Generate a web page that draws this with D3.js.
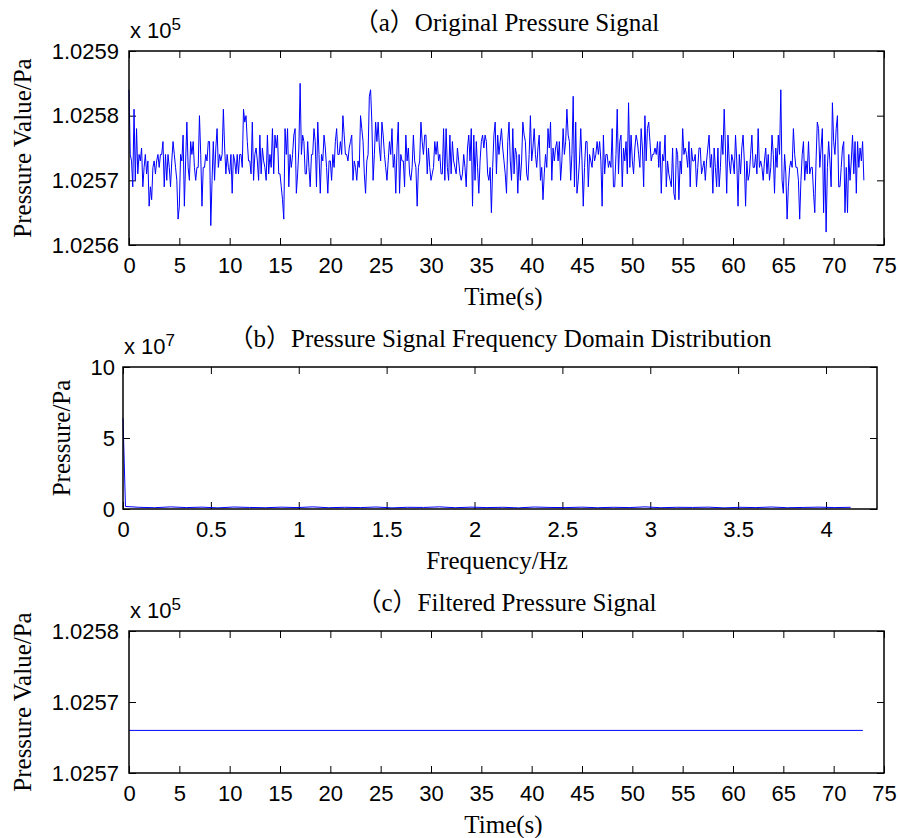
<!DOCTYPE html>
<html>
<head>
<meta charset="utf-8">
<script src="https://cdn.jsdelivr.net/npm/d3@7"></script>
<style>
    body { margin: 0; background: #ffffff; }
    svg { display: block; }
</style>
</head>
<body>
<svg id="chart" width="898" height="838"></svg>
<script>
//sample interval of the recorded signal (s)
var sampleInterval = 0.125;

//original pressure signal (Pa)
var pressureValues = [
    102584,102574,102573,102569,102581,102570,102578,102571,102574,102573,102575,102569,102572,102574,102571,102573,
    102566,102569,102567,102572,102573,102571,102573,102574,102572,102574,102574,
    102576,102569,102574,102570,102574,102572,102569,102573,102576,102574,102572,102570,102564,
    102566,102574,102573,102577,102566,102573,102579,102572,102570,102576,102574,102576,102572,102570,
    102572,102572,102580,102574,102566,102572,102572,102574,102573,102576,102576,102563,102570,
    102576,102570,102575,102578,102572,102574,102573,102574,102581,102575,102571,102574,102572,
    102571,102574,102568,102574,102573,102571,102574,102571,102574,102574,102572,102581,102579,102580,102576,102573,
    102573,102571,102579,102570,102574,102575,102573,102570,102577,102571,102575,102573,102572,
    102570,102577,102571,102574,102572,102578,102571,102577,102575,102577,102571,102571,102569,
    102567,102564,102578,102574,102578,102569,102574,102572,102574,102577,102578,102568,102571,
    102575,102585,102574,102577,102576,102571,102571,102576,102572,102569,102574,102574,102578,102576,102569,102579,102574,
    102568,102574,102573,102577,102575,102572,102568,102573,102573,102570,102574,102572,
    102576,102578,102574,102574,102576,102574,102580,102577,102574,102574,102573,102575,
    102576,102577,102570,102573,102572,102570,102573,102572,102580,102578,102576,102571,
    102568,102573,102574,102583,102584,102579,102570,102574,102579,102576,102579,102575,
    102573,102579,102577,102574,102572,102570,102573,102576,102574,102578,102572,102574,
    102568,102575,102579,102568,102574,102573,102573,102569,102577,102573,102575,102571,
    102570,102572,102577,102573,102572,102566,102572,102573,102579,102576,102574,102577,
    102577,102571,102575,102572,102570,102571,102572,102576,102574,102576,102573,102574,
    102571,102571,102578,102570,102578,102572,102570,102577,102571,102576,102573,102572,
    102571,102575,102573,102571,102570,102571,102574,102572,102569,102575,102577,102573,
    102578,102566,102577,102570,102576,102572,102568,102573,102576,102577,102575,102577,
    102576,102571,102570,102572,102565,102572,102577,102579,102571,102577,102574,102576,
    102578,102575,102573,102571,102568,102576,102579,102573,102570,102578,102571,102575,102574,
    102568,102574,102570,102573,102579,102577,102576,102571,102570,102574,102580,102573,102575,
    102578,102574,102572,102575,102577,102570,102572,102567,102571,102574,102572,102578,102575,
    102579,102570,102575,102573,102575,102576,102573,102576,102570,102573,102578,102574,
    102576,102581,102577,102576,102570,102574,102583,102569,102579,102568,102570,102573,
    102578,102573,102566,102572,102576,102576,102569,102574,102573,102572,102575,102573,
    102574,102576,102574,102576,102573,102566,102577,102571,102574,102574,102572,102573,
    102572,102578,102569,102569,102574,102581,102571,102576,102577,102569,102575,102573,
    102576,102571,102582,102572,102577,102573,102571,102575,102577,102576,102574,102572,
    102578,102575,102569,102580,102573,102578,102579,102576,102573,102574,102574,102575,
    102574,102576,102572,102576,102568,102574,102573,102577,102569,102573,102571,102570,
    102569,102575,102568,102567,102575,102574,102567,102573,102571,102578,102574,102575,
    102574,102572,102576,102569,102575,102573,102573,102574,102569,102572,102575,102575,
    102571,102572,102573,102570,
    102573,102575,102577,102572,102574,102568,102575,102572,102569,102575,102569,102572,102577,102574,
    102581,102575,102568,102577,102573,102571,102574,102573,102571,102577,102573,102566,102574,102571,
    102575,102577,102573,102566,102573,102570,102571,102574,102577,102572,102572,102574,102571,
    102578,102572,102573,102572,102570,102573,102575,102571,102574,102570,102572,102577,102574,
    102568,102575,102572,102577,102574,102584,102570,102568,102574,102571,102564,102569,102572,
    102573,102572,102578,102574,102572,102572,102570,102564,102570,102574,102576,102570,102573,
    102571,102576,102571,102572,102572,102568,102565,102573,102579,102578,102572,102575,
    102578,102565,102574,102562,102572,102576,102573,102569,102582,102576,102574,102578,
    102580,102569,102569,102572,102575,102576,102565,102572,102565,102574,102570,102573,
    102577,102571,102576,102568,102576,102572,102575,102573,102576,102570
];

//frequency domain distribution, panel (b): frequency (Hz) and amplitude (x 10^7 Pa)
var spectrumFreq = [0, 0.014, 0.09, 0.18, 0.27, 0.36, 0.45, 0.54, 0.63, 0.72, 0.81, 0.9, 0.99, 1.08, 1.17, 1.26,
    1.35, 1.44, 1.53, 1.62, 1.71, 1.8, 1.89, 1.98, 2.07, 2.16, 2.25, 2.34, 2.43, 2.52, 2.61, 2.7, 2.79,
    2.88, 2.97, 3.06, 3.15, 3.24, 3.33, 3.42, 3.51, 3.6, 3.69, 3.78, 3.87, 3.96, 4.05, 4.14];
var spectrumAmp = [6.39, 0.18, 0.12, 0.09, 0.15, 0.1, 0.13, 0.08, 0.14, 0.11, 0.09, 0.13, 0.1, 0.15, 0.09, 0.12,
    0.1, 0.14, 0.08, 0.12, 0.11, 0.15, 0.09, 0.13, 0.1, 0.12, 0.08, 0.14, 0.11, 0.1, 0.13, 0.09, 0.12,
    0.1, 0.15, 0.09, 0.12, 0.11, 0.13, 0.08, 0.12, 0.1, 0.14, 0.09, 0.11, 0.13, 0.1, 0.12];

//filtered pressure signal, panel (c)
var filteredTime = [0, 72.9];
var filteredValues = [102568, 102568];

//axis ticks and labels
var timeTicks = [0, 5, 10, 15, 20, 25, 30, 35, 40, 45, 50, 55, 60, 65, 70, 75];
var pressureTicks = [102560, 102570, 102580, 102590];
var pressureTickLabels = ['1.0256', '1.0257', '1.0258', '1.0259'];
var freqTicks = [0, 0.5, 1, 1.5, 2, 2.5, 3, 3.5, 4];
var freqTickLabels = ['0', '0.5', '1', '1.5', '2', '2.5', '3', '3.5', '4'];
var spectrumTicks = [0, 5, 10];
var filteredTicks = [102565, 102570, 102575];
var filteredTickLabels = ['1.0257', '1.0257', '1.0258'];

var svg = d3.select('#chart'),
    lineColor = '#0000ff',
    serif = '"Times New Roman", "Liberation Serif", "Noto Sans CJK SC", serif',
    sans = 'Arial, "Liberation Sans", Helvetica, sans-serif',
    tickLen = 7;

//draws one subplot with a MATLAB style boxed frame
function drawPanel(p) {
    var w = p.right - p.left,
        h = p.bottom - p.top,
        x = d3.scaleLinear().domain(p.xDomain).range([0, w]),
        y = d3.scaleLinear().domain(p.yDomain).range([h, 0]);

    var g = svg.append('g')
        .attr('transform', 'translate(' + p.left + ',' + p.top + ')');

    //bottom axis with labels
    g.append('g')
        .attr('class', 'axis')
        .attr('transform', 'translate(0,' + h + ')')
        .call(d3.axisBottom(x).tickValues(p.xTicks)
            .tickFormat(function (d, i) { return p.xLabels ? p.xLabels[i] : d; })
            .tickSize(-tickLen).tickSizeOuter(0).tickPadding(12));

    //mirrored top ticks
    g.append('g')
        .attr('class', 'axis')
        .call(d3.axisTop(x).tickValues(p.xTicks).tickFormat('').tickSize(-tickLen).tickSizeOuter(0));

    //left axis with labels
    g.append('g')
        .attr('class', 'axis')
        .call(d3.axisLeft(y).tickValues(p.yTicks)
            .tickFormat(function (d, i) { return p.yLabels ? p.yLabels[i] : d; })
            .tickSize(-tickLen).tickSizeOuter(0).tickPadding(p.yPad));

    //mirrored right ticks
    g.append('g')
        .attr('class', 'axis')
        .attr('transform', 'translate(' + w + ',0)')
        .call(d3.axisRight(y).tickValues(p.yTicks).tickFormat('').tickSize(-tickLen).tickSizeOuter(0));

    g.selectAll('.axis .domain').remove();
    g.selectAll('.axis')
        .attr('font-family', sans)
        .attr('font-size', 22);
    g.selectAll('.axis line').attr('stroke', '#000').attr('stroke-width', 1);
    g.selectAll('.axis text').attr('fill', '#000');

    //signal line
    g.append('path')
        .datum(p.data)
        .attr('fill', 'none')
        .attr('stroke', lineColor)
        .attr('stroke-width', 1)
        .attr('stroke-linejoin', 'round')
        .attr('d', d3.line()
            .x(function (d) { return x(d[0]); })
            .y(function (d) { return y(d[1]); }));

    //frame
    g.append('rect')
        .attr('width', w)
        .attr('height', h)
        .attr('fill', 'none')
        .attr('stroke', '#000')
        .attr('stroke-width', 1.5);

    //title
    svg.append('text')
        .attr('x', (p.left + p.right) / 2)
        .attr('y', p.titleY)
        .attr('text-anchor', 'middle')
        .attr('font-family', serif)
        .attr('font-size', 25)
        .text(p.title);

    //exponent label
    var ex = svg.append('text')
        .attr('x', p.left + 1)
        .attr('y', p.top - 13)
        .attr('font-family', sans)
        .attr('font-size', 22);
    ex.append('tspan').text('x 10');
    ex.append('tspan')
        .attr('dy', -8)
        .attr('font-size', 17)
        .text(p.exponent);

    //x axis title
    svg.append('text')
        .attr('x', (p.left + p.right) / 2 - 3)
        .attr('y', p.xTitleY)
        .attr('text-anchor', 'middle')
        .attr('font-family', serif)
        .attr('font-size', 25)
        .text(p.xTitle);

    //y axis title
    svg.append('text')
        .attr('transform', 'translate(' + p.yTitleX + ',' + (p.top + p.bottom) / 2 + ') rotate(-90)')
        .attr('text-anchor', 'middle')
        .attr('font-family', serif)
        .attr('font-size', 25)
        .text(p.yTitle);
}

//panel (a) original signal
drawPanel({
    left: 129, right: 884, top: 51, bottom: 245,
    xDomain: [0, 75], yDomain: [102560, 102590],
    xTicks: timeTicks, yTicks: pressureTicks, yLabels: pressureTickLabels, yPad: 10,
    data: pressureValues.map(function (v, i) { return [i * sampleInterval, v]; }),
    title: '（a）Original Pressure Signal', titleY: 31,
    exponent: '5', xTitle: 'Time(s)', xTitleY: 305,
    yTitle: 'Pressure Value/Pa', yTitleX: 31
});

//panel (b) frequency domain
drawPanel({
    left: 123, right: 877, top: 367, bottom: 509,
    xDomain: [0, 4.29], yDomain: [0, 10],
    xTicks: freqTicks, xLabels: freqTickLabels, yTicks: spectrumTicks, yPad: 8,
    data: spectrumFreq.map(function (f, i) { return [f, spectrumAmp[i]]; }),
    title: '（b）Pressure Signal Frequency Domain Distribution', titleY: 347,
    exponent: '7', xTitle: 'Frequency/Hz', xTitleY: 569,
    yTitle: 'Pressure/Pa', yTitleX: 70
});

//panel (c) filtered signal
drawPanel({
    left: 129, right: 884, top: 631, bottom: 773,
    xDomain: [0, 75], yDomain: [102565, 102575],
    xTicks: timeTicks, yTicks: filteredTicks, yLabels: filteredTickLabels, yPad: 10,
    data: filteredTime.map(function (t, i) { return [t, filteredValues[i]]; }),
    title: '（c）Filtered Pressure Signal', titleY: 611,
    exponent: '5', xTitle: 'Time(s)', xTitleY: 833,
    yTitle: 'Pressure Value/Pa', yTitleX: 31
});
</script>
</body>
</html>
